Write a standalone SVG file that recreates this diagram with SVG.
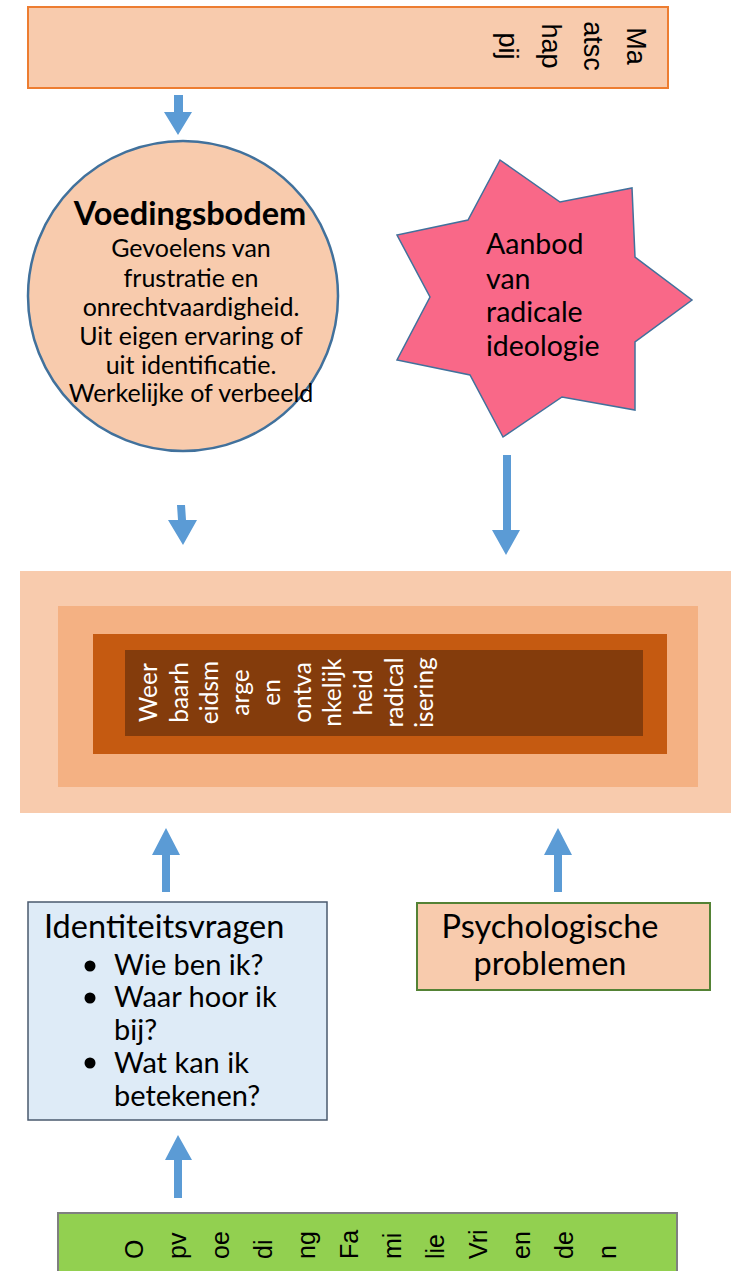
<svg xmlns="http://www.w3.org/2000/svg" width="731" height="1271" viewBox="0 0 731 1271">
<style>
.arrow{fill:#5B9BD5}
.cal{font-family:Lato,"Liberation Sans",sans-serif;fill:#000}
.ari{font-family:"Liberation Sans",Arial,sans-serif;fill:#000}
.wht{font-family:Lato,"Liberation Sans",sans-serif;fill:#fff;font-size:24.5px}
</style>
<rect width="731" height="1271" fill="#fff"/>
<g id="connectors">
<polygon class="arrow" points="174,95 183,95 183,112 192,112 178,135 164,112 174,112"/>
<polygon class="arrow" points="177,505 185,505 186,520 197,520 183,545 168,520 178,520"/>
<polygon class="arrow" points="503,455 511,455 511,530 520,530 506,555 492,530 503,530"/>
<polygon class="arrow" points="162,892 170,892 170,855 180,855 166,828 152,855 162,855"/>
<polygon class="arrow" points="554,892 562,892 562,855 572,855 558,828 544,855 554,855"/>
<polygon class="arrow" points="174,1198 182,1198 182,1160 192,1160 178,1135 165,1160 174,1160"/>
</g>
<g id="maatschappij">
<rect x="28" y="7" width="640" height="81" fill="#F8CBAD" stroke="#ED7D31" stroke-width="2"/>
<g class="ari" font-size="27" text-anchor="middle">
<text transform="translate(627,46) rotate(90)">Ma</text>
<text transform="translate(584,46) rotate(90)">atsc</text>
<text transform="translate(542,46) rotate(90)">hap</text>
<text transform="translate(499,46) rotate(90)">pij</text>
</g>
</g>
<g id="voedingsbodem">
<circle cx="183" cy="296" r="155" fill="#F8CBAD" stroke="#41719C" stroke-width="2.5"/>
<g class="cal" text-anchor="middle" font-size="25">
<text x="190" y="225" font-weight="bold" font-size="32.5">Voedingsbodem</text>
<text x="191" y="257">Gevoelens van</text>
<text x="191" y="287">frustratie en</text>
<text x="191" y="316">onrechtvaardigheid.</text>
<text x="191" y="345">Uit eigen ervaring of</text>
<text x="191" y="374">uit identificatie.</text>
<text x="191" y="402">Werkelijke of verbeeld</text>
</g>
</g>
<g id="aanbod">
<polygon points="500,160 560,202 632,188 635,257 692,300 635,342 635,410 562,397 503,437 470,375 397,360 430,297 397,235 468,220" fill="#F96888" stroke="#41719C" stroke-width="1.5"/>
<g class="cal" font-size="28.5">
<text x="486" y="254">Aanbod</text>
<text x="486" y="289">van</text>
<text x="486" y="322">radicale</text>
<text x="486" y="356">ideologie</text>
</g>
</g>
<g id="kwetsbaarheid">
<rect x="20" y="571" width="711" height="242" fill="#F8CBAD"/>
<rect x="58" y="606" width="640" height="181" fill="#F4B183"/>
<rect x="93" y="634" width="574" height="120" fill="#C55A11"/>
<rect x="125" y="650" width="518" height="86" fill="#843C0C"/>
<g class="wht" text-anchor="middle">
<text transform="translate(157,692.5) rotate(-90)">Weer</text>
<text transform="translate(187.7,692.5) rotate(-90)">baarh</text>
<text transform="translate(218.4,692.5) rotate(-90)">eidsm</text>
<text transform="translate(249.1,692.5) rotate(-90)">arge</text>
<text transform="translate(279.8,692.5) rotate(-90)">en</text>
<text transform="translate(310.5,692.5) rotate(-90)">ontva</text>
<text transform="translate(341.2,692.5) rotate(-90)">nkelijk</text>
<text transform="translate(371.9,692.5) rotate(-90)">heid</text>
<text transform="translate(402.6,692.5) rotate(-90)">radical</text>
<text transform="translate(433.3,692.5) rotate(-90)">isering</text>
</g>
</g>
<g id="identiteit">
<rect x="28" y="902" width="299" height="218" fill="#DEEBF7" stroke="#4A5A6E" stroke-width="1.5"/>
<g class="cal" font-size="29">
<text x="44" y="938" font-size="32.5">Identiteitsvragen</text>
<circle cx="90" cy="966" r="5.5"/>
<text x="114" y="975">Wie ben ik?</text>
<circle cx="90" cy="998" r="5.5"/>
<text x="114" y="1007">Waar hoor ik</text>
<text x="114" y="1040">bij?</text>
<circle cx="90" cy="1063" r="5.5"/>
<text x="114" y="1073">Wat kan ik</text>
<text x="114" y="1106">betekenen?</text>
</g>
</g>
<g id="psychologisch">
<rect x="417" y="903" width="293" height="87" fill="#F8CBAD" stroke="#548235" stroke-width="2"/>
<g class="cal" font-size="32.5" text-anchor="middle">
<text x="550" y="938">Psychologische</text>
<text x="550" y="975">problemen</text>
</g>
</g>
<g id="opvoeding">
<rect x="58" y="1213" width="619" height="70" fill="#92D050" stroke="#7F7F7F" stroke-width="2"/>
<g class="ari" font-size="25">
<text transform="translate(143,1259) rotate(-90)">O</text>
<text transform="translate(186,1259) rotate(-90)">pv</text>
<text transform="translate(229,1259) rotate(-90)">oe</text>
<text transform="translate(272,1259) rotate(-90)">di</text>
<text transform="translate(315,1259) rotate(-90)">ng</text>
<text transform="translate(358,1259) rotate(-90)">Fa</text>
<text transform="translate(401,1259) rotate(-90)">mi</text>
<text transform="translate(444,1259) rotate(-90)">lie</text>
<text transform="translate(487,1259) rotate(-90)">Vri</text>
<text transform="translate(530,1259) rotate(-90)">en</text>
<text transform="translate(573,1259) rotate(-90)">de</text>
<text transform="translate(616,1259) rotate(-90)">n</text>
</g>
</g>
</svg>
